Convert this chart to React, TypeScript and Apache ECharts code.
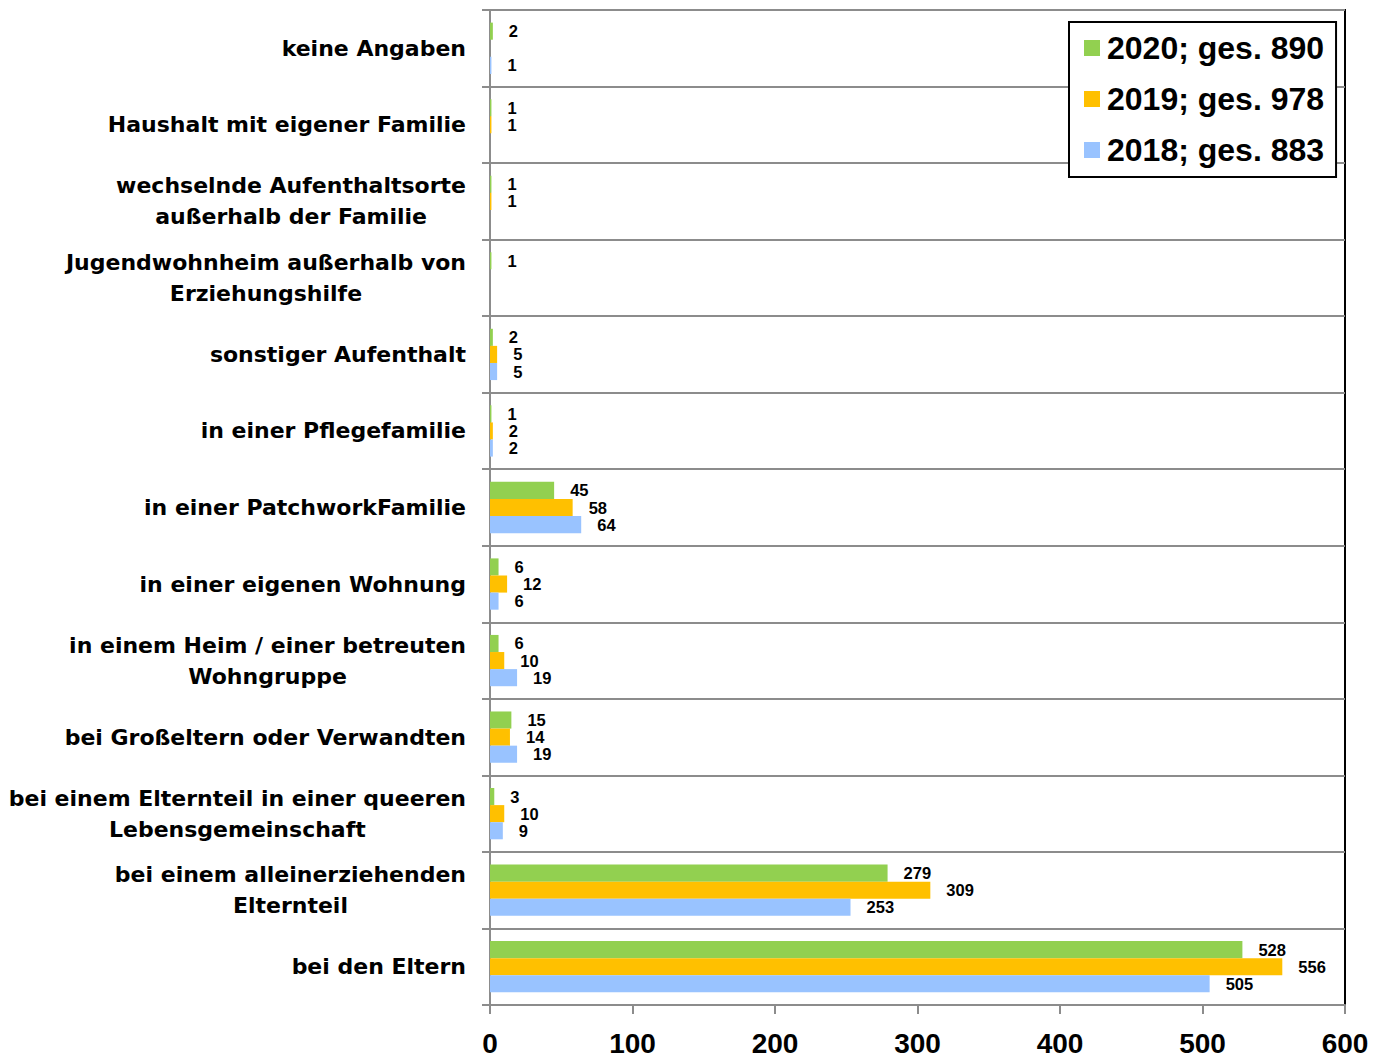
import React, { useEffect, useRef } from "react";
import * as echarts from "echarts";

const categories = [
  "keine Angaben",
  "Haushalt mit eigener Familie",
  "wechselnde Aufenthaltsorte\naußerhalb der Familie",
  "Jugendwohnheim außerhalb von\nErziehungshilfe",
  "sonstiger Aufenthalt",
  "in einer Pflegefamilie",
  "in einer PatchworkFamilie",
  "in einer eigenen Wohnung",
  "in einem Heim / einer betreuten\nWohngruppe",
  "bei Großeltern oder Verwandten",
  "bei einem Elternteil in einer queeren\nLebensgemeinschaft",
  "bei einem alleinerziehenden\nElternteil",
  "bei den Eltern",
];

const seriesNames = ["2020; ges. 890", "2019; ges. 978", "2018; ges. 883"];
const values2020 = [2, 1, 1, 1, 2, 1, 45, 6, 6, 15, 3, 279, 528];
const values2019 = [null, 1, 1, null, 5, 2, 58, 12, 10, 14, 10, 309, 556];
const values2018 = [1, null, null, null, 5, 2, 64, 6, 19, 19, 9, 253, 505];
const xTicks = { min: 0, max: 600, interval: 100 };

const colors = ["#92D050", "#FFC000", "#99C3FF"];
const FONT = "'Liberation Sans', Arial, sans-serif";
const WIDE = "'DejaVu Sans', Verdana, sans-serif";
const GRAY = "#8C8C8C";

export default function App() {
  const ref = useRef<HTMLDivElement>(null);
  useEffect(() => {
    if (!ref.current) return;
    const chart = echarts.init(ref.current, undefined, { renderer: "svg" });
    const allValues = [values2020, values2019, values2018];
    chart.setOption({
      animation: false,
      backgroundColor: "#fff",
      grid: {
        left: 490,
        right: 29,
        top: 10,
        bottom: 52,
        show: true,
        borderColor: "#000",
        borderWidth: 2,
        containLabel: false,
        outerBoundsMode: "none",
      },
      legend: {
        data: seriesNames,
        orient: "vertical",
        left: 1069,
        top: 22,
        borderColor: "#000",
        borderWidth: 2,
        backgroundColor: "#fff",
        padding: [10, 12, 11, 15],
        itemWidth: 16,
        itemHeight: 16,
        itemGap: 19,
        icon: "rect",
        textStyle: {
          fontFamily: FONT,
          fontWeight: "bold",
          fontSize: 32,
          lineHeight: 32,
          color: "#000",
          padding: [0, 0, 0, 2],
        },
      },
      xAxis: {
        type: "value",
        min: xTicks.min,
        max: xTicks.max,
        interval: xTicks.interval,
        splitLine: { show: false },
        axisLine: { show: true, lineStyle: { color: GRAY, width: 2 } },
        axisTick: { show: true, length: 9, lineStyle: { color: GRAY, width: 2 } },
        axisLabel: {
          margin: 25,
          fontFamily: FONT,
          fontWeight: "bold",
          fontSize: 28,
          lineHeight: 26,
          color: "#000",
        },
      },
      yAxis: {
        type: "category",
        inverse: true,
        data: categories,
        axisLine: { show: true, lineStyle: { color: GRAY, width: 2 } },
        axisTick: { show: true, length: 8, lineStyle: { color: GRAY, width: 2 } },
        splitLine: { show: true, lineStyle: { color: GRAY, width: 2 } },
        axisLabel: {
          margin: 24,
          align: "right",
          formatter: (v: string) => v.split("\n").map((l) => `{c|${l}}`).join("\n"),
          rich: {
            c: {
              align: "center",
              fontFamily: WIDE,
              fontWeight: "bold",
              fontSize: 22,
              lineHeight: 31,
              color: "#000",
            },
          },
        },
      },
      series: seriesNames.map((name, i) => ({
        name,
        type: "bar",
        data: allValues[i],
        barGap: "0%",
        barCategoryGap: "33%",
        itemStyle: { color: colors[i] },
        label: {
          show: true,
          position: "right",
          distance: 16,
          fontFamily: FONT,
          fontWeight: "bold",
          fontSize: 16.5,
          lineHeight: 16,
          color: "#000",
        },
      })),
    });
    return () => chart.dispose();
  }, []);
  return (
    <div
      ref={ref}
      style={{ position: "fixed", left: 0, top: 0, width: 1374, height: 1057 }}
    />
  );
}
